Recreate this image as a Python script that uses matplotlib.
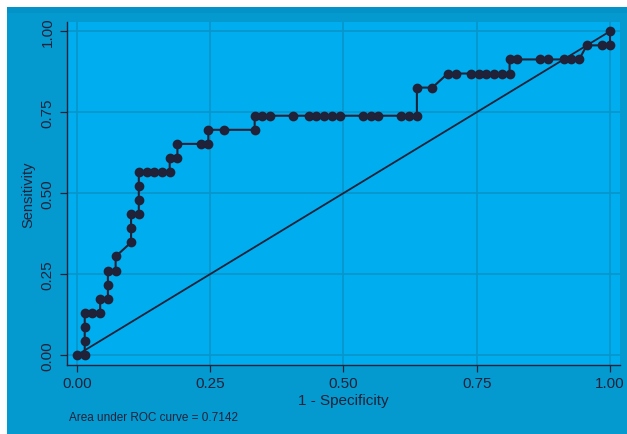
import matplotlib
matplotlib.use("Agg")
import matplotlib.pyplot as plt
from matplotlib.patches import Rectangle

# ROC points: false positives out of 69 negatives, true positives out of 23 positives
n_neg = 69
n_pos = 23
fp = [0, 1, 1, 1, 1, 2, 3, 3, 4, 4, 4, 5, 5, 7, 7, 7, 8, 8, 8, 8,
      9, 10, 11, 12, 12, 13, 13, 16, 17, 17, 19, 23, 23, 24, 25, 28, 30, 31, 32, 33,
      34, 37, 38, 39, 42, 43, 44, 44, 46, 48, 49, 51, 52, 53, 54, 55, 56, 56, 57, 60,
      61, 63, 64, 65, 66, 68, 69, 69]
tp = [0, 0, 1, 2, 3, 3, 3, 4, 4, 5, 6, 6, 7, 8, 9, 10, 10, 11, 12, 13,
      13, 13, 13, 13, 14, 14, 15, 15, 15, 16, 16, 16, 17, 17, 17, 17, 17, 17, 17, 17,
      17, 17, 17, 17, 17, 17, 17, 19, 19, 20, 20, 20, 20, 20, 20, 20, 20, 21, 21, 21,
      21, 21, 21, 21, 22, 22, 22, 23]
ticks = [0.0, 0.25, 0.5, 0.75, 1.0]
tick_labels = ["0.00", "0.25", "0.50", "0.75", "1.00"]
auc_text = "Area under ROC curve = 0.7142"

spec1 = [v / n_neg for v in fp]
sens = [v / n_pos for v in tp]

outer = "#049ad0"
inner = "#00adee"
gridc = "#0796cc"
dark = "#1f2238"

plt.rcParams['font.family'] = ['Liberation Sans', 'DejaVu Sans']

fig = plt.figure(figsize=(6.27, 4.35), dpi=100, facecolor="white")
fig.patches.append(Rectangle((7 / 627, 0), 1, (435 - 8) / 435, transform=fig.transFigure,
                             facecolor=outer, edgecolor="none", zorder=-2))
fig.patches.append(Rectangle((7 / 627, (435 - 14) / 435), 1, 6 / 435, transform=fig.transFigure,
                             facecolor="#0393c8", edgecolor="none", zorder=-1))

ax = fig.add_axes([67 / 627, (435 - 366) / 435, (620 - 67) / 627, (366 - 23) / 435])
ax.set_facecolor(inner)

ax.plot([0, 1], [0, 1], color=dark, lw=1.3, zorder=3)
ax.plot(spec1, sens, color=dark, lw=1.5, marker="o", ms=6, mfc=dark, mec=dark, zorder=4)

ax.set_xlim(-0.01876, 1.01876)
ax.set_ylim(-0.0309, 1.0287)
ax.set_xticks(ticks)
ax.set_xticklabels(tick_labels)
ax.set_yticks(ticks)
ax.set_yticklabels(tick_labels, rotation=90, va="center")
ax.grid(True, color=gridc, lw=1.3)
ax.set_axisbelow(True)

for s in ["top", "right"]:
    ax.spines[s].set_visible(False)
for s in ["left", "bottom"]:
    ax.spines[s].set_color(dark)
    ax.spines[s].set_linewidth(1.0)
ax.tick_params(axis="both", colors=dark, labelsize=11, length=5, width=0.9, pad=3)
ax.tick_params(axis="y", pad=4)

ax.set_xlabel("1 - Specificity", fontsize=11, color=dark, labelpad=2)
ax.set_ylabel("Sensitivity", fontsize=10.5, color=dark, labelpad=4)

fig.text(69 / 627, 1 - 418 / 435, auc_text, fontsize=8.5, color=dark, va="center", ha="left")

fig.savefig("out.png", dpi=100, facecolor="white")
